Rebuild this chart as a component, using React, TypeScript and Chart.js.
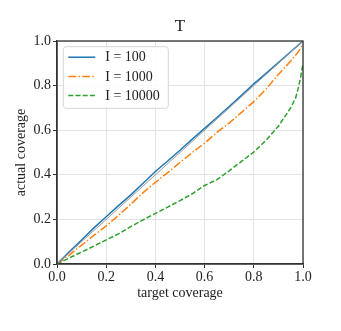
import { useEffect, useRef } from 'react';
import { Chart, registerables } from 'chart.js';

Chart.register(...registerables);

// ---- data ----
const chartTitle = 'T';

const target100 = [0, 0.05, 0.1, 0.15, 0.2, 0.25, 0.3, 0.35, 0.4, 0.45, 0.5, 0.55, 0.6, 0.65, 0.7, 0.75, 0.8, 0.85, 0.9, 0.95, 1.0];
const coverage100 = [0, 0.055, 0.108, 0.162, 0.212, 0.262, 0.31, 0.362, 0.415, 0.462, 0.51, 0.56, 0.608, 0.657, 0.706, 0.756, 0.808, 0.855, 0.903, 0.952, 1.0];

const target1000 = [0, 0.05, 0.1, 0.15, 0.2, 0.25, 0.3, 0.35, 0.4, 0.45, 0.5, 0.55, 0.6, 0.65, 0.7, 0.75, 0.8, 0.85, 0.9, 0.95, 0.98, 1.0];
const coverage1000 = [0, 0.04, 0.085, 0.128, 0.171, 0.218, 0.268, 0.32, 0.366, 0.41, 0.455, 0.5, 0.542, 0.59, 0.632, 0.68, 0.728, 0.785, 0.85, 0.91, 0.95, 0.985];

const target10000 = [0, 0.05, 0.1, 0.15, 0.2, 0.25, 0.3, 0.35, 0.4, 0.45, 0.5, 0.55, 0.6, 0.65, 0.7, 0.75, 0.8, 0.85, 0.9, 0.95, 0.97, 0.98, 0.99, 1.0];
const coverage10000 = [0, 0.027, 0.054, 0.08, 0.108, 0.135, 0.168, 0.198, 0.227, 0.255, 0.284, 0.315, 0.352, 0.378, 0.418, 0.46, 0.502, 0.555, 0.618, 0.7, 0.745, 0.785, 0.835, 0.9];

const diagonalX = [0, 1];
const diagonalY = [0, 1];

const tickValues = [0, 0.2, 0.4, 0.6, 0.8, 1.0];

const seriesLabels = ['I = 100', 'I = 1000', 'I = 10000'];
const seriesColors = ['#1f77b4', '#ff7f0e', '#2ca02c'];

const FONT = "'Liberation Serif', 'DejaVu Serif', serif";

const toPoints = (xs: number[], ys: number[]) => xs.map((x, i) => ({ x, y: ys[i] }));

const framePlugin = {
  id: 'frameAndLegend',
  afterDatasetsDraw(chart: any) {
    const { ctx, chartArea } = chart;
    const { left, top, right, bottom } = chartArea;
    ctx.save();
    // frame
    ctx.strokeStyle = '#333';
    ctx.lineWidth = 1.3;
    ctx.setLineDash([]);
    ctx.strokeRect(left, top, right - left, bottom - top);

    // title centred over the plot area
    ctx.fillStyle = '#222';
    ctx.font = `17px ${FONT}`;
    ctx.textAlign = 'center';
    ctx.textBaseline = 'alphabetic';
    ctx.fillText(chartTitle, (left + right) / 2, 31);

    // legend
    const lx = left + 6.3;
    const ly = top + 5.7;
    const lw = 105;
    const lh = 61.6;
    const r = 3;
    ctx.beginPath();
    ctx.moveTo(lx + r, ly);
    ctx.lineTo(lx + lw - r, ly);
    ctx.quadraticCurveTo(lx + lw, ly, lx + lw, ly + r);
    ctx.lineTo(lx + lw, ly + lh - r);
    ctx.quadraticCurveTo(lx + lw, ly + lh, lx + lw - r, ly + lh);
    ctx.lineTo(lx + r, ly + lh);
    ctx.quadraticCurveTo(lx, ly + lh, lx, ly + lh - r);
    ctx.lineTo(lx, ly + r);
    ctx.quadraticCurveTo(lx, ly, lx + r, ly);
    ctx.closePath();
    ctx.fillStyle = 'rgba(255,255,255,0.85)';
    ctx.fill();
    ctx.strokeStyle = '#d5d5d5';
    ctx.lineWidth = 1;
    ctx.stroke();

    const ds = chart.data.datasets.filter((d: any) => !d.hideInLegend);
    ds.forEach((d: any, i: number) => {
      const y = ly + 10.5 + i * 19.2;
      ctx.beginPath();
      ctx.strokeStyle = d.borderColor;
      ctx.lineWidth = d.borderWidth;
      ctx.setLineDash(d.borderDash || []);
      ctx.moveTo(lx + 5, y);
      ctx.lineTo(lx + 32, y);
      ctx.stroke();
      ctx.setLineDash([]);
      ctx.fillStyle = '#222';
      ctx.font = `14px ${FONT}`;
      ctx.textBaseline = 'middle';
      ctx.textAlign = 'left';
      ctx.fillText(d.label, lx + 42, y + 0.5);
    });
    ctx.restore();
  },
};

export default function App() {
  const canvasRef = useRef<HTMLCanvasElement | null>(null);

  useEffect(() => {
    if (!canvasRef.current) return;
    const chart = new Chart(canvasRef.current, {
      type: 'line',
      data: {
        datasets: [
          {
            label: 'y = x',
            hideInLegend: true,
            data: toPoints(diagonalX, diagonalY),
            borderColor: '#9a9a9a',
            borderWidth: 1,
            pointRadius: 0,
          } as any,
          {
            label: seriesLabels[0],
            data: toPoints(target100, coverage100),
            borderColor: seriesColors[0],
            borderWidth: 1.5,
            pointRadius: 0,
          },
          {
            label: seriesLabels[1],
            data: toPoints(target1000, coverage1000),
            borderColor: seriesColors[1],
            borderWidth: 1.5,
            borderDash: [8, 2.2, 1.4, 2.2],
            pointRadius: 0,
          },
          {
            label: seriesLabels[2],
            data: toPoints(target10000, coverage10000),
            borderColor: seriesColors[2],
            borderWidth: 1.5,
            borderDash: [5, 2.2],
            pointRadius: 0,
          },
        ],
      },
      options: {
        animation: false,
        responsive: false,
        devicePixelRatio: 1,
        layout: { padding: { left: 0, right: 38, top: 41, bottom: 0 } },
        plugins: {
          legend: { display: false },
          tooltip: { enabled: false },
          title: { display: false },
        },
        scales: {
          x: {
            type: 'linear',
            min: 0,
            max: 1,
            afterBuildTicks: (s: any) => {
              s.ticks = tickValues.map((v) => ({ value: v }));
            },
            afterFit: (s: any) => {
              s.height = 67;
            },
            ticks: {
              color: '#222',
              padding: 1,
              font: { family: FONT, size: 14 },
              callback: (v: any) => Number(v).toFixed(1),
              maxRotation: 0,
            },
            grid: { color: '#e3e3e3', tickColor: '#333', tickLength: 4, lineWidth: 1 },
            border: { display: true, color: '#333', width: 1.3 },
            title: {
              display: true,
              text: 'target coverage',
              color: '#222',
              font: { family: FONT, size: 14 },
              padding: { top: 4, bottom: 29 },
            },
          },
          y: {
            type: 'linear',
            min: 0,
            max: 1,
            afterBuildTicks: (s: any) => {
              s.ticks = tickValues.map((v) => ({ value: v }));
            },
            afterFit: (s: any) => {
              s.width = 57;
            },
            ticks: {
              color: '#222',
              padding: 2,
              font: { family: FONT, size: 14 },
              callback: (v: any) => Number(v).toFixed(1),
            },
            grid: { color: '#e3e3e3', tickColor: '#333', tickLength: 4, lineWidth: 1 },
            border: { display: true, color: '#333', width: 1.3 },
            title: {
              display: true,
              text: 'actual coverage',
              color: '#222',
              font: { family: FONT, size: 14 },
              padding: { top: 13, bottom: 0 },
            },
          },
        },
      },
      plugins: [framePlugin],
    } as any);
    return () => chart.destroy();
  }, []);

  return (
    <div style={{ position: 'absolute', left: 0, top: 0, width: 341, height: 331, background: '#fff' }}>
      <canvas ref={canvasRef} width={341} height={331} style={{ display: 'block' }} />
    </div>
  );
}
